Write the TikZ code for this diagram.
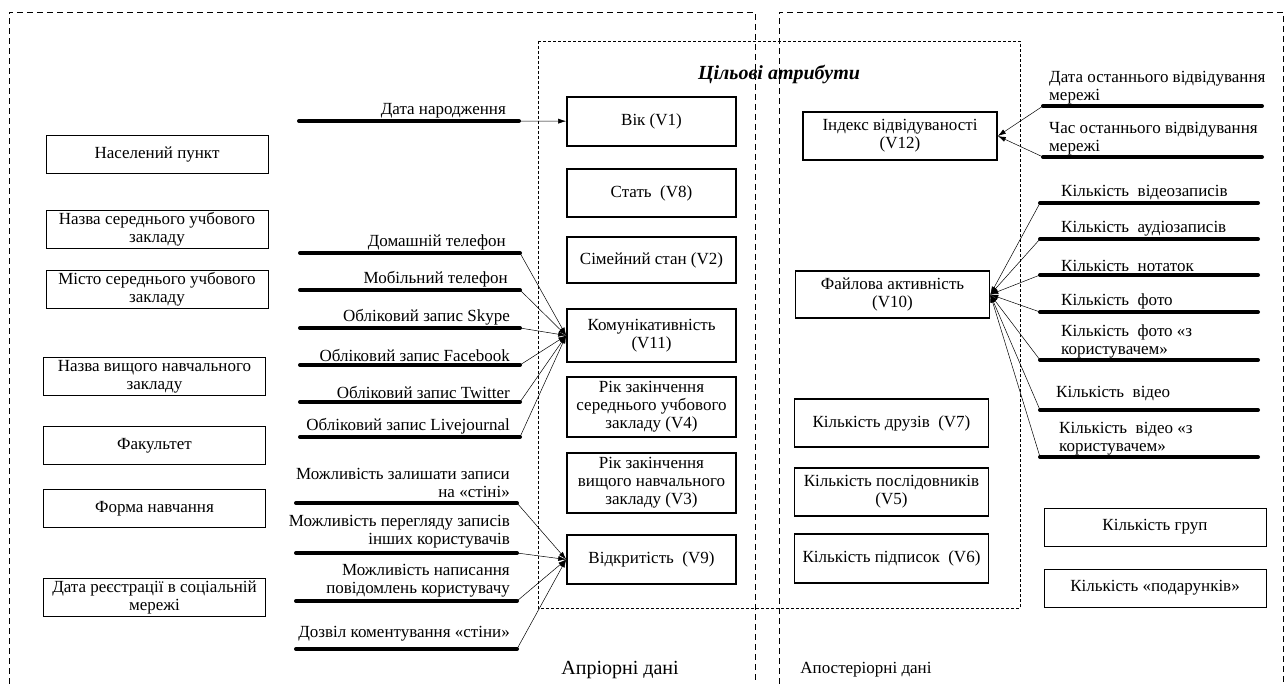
\documentclass[tikz,border=0pt]{standalone}
\usepackage{fontspec}
\setmainfont{Liberation Serif}
\usetikzlibrary{arrows.meta}

\begin{document}
\begin{tikzpicture}[
    x=1pt, y=-1pt,
    font=\fontsize{17}{18}\selectfont,
    box/.style={draw, line width=0.8pt, align=center, inner sep=1pt, minimum width=222pt, minimum height=38pt},
    attr/.style={draw, line width=1.6pt, align=center, inner sep=1pt, minimum width=169pt},
    post/.style={attr, minimum width=194pt, minimum height=48pt},
    feat/.style={line width=4pt, line cap=round},
    lblr/.style={inner sep=1pt, align=right, anchor=south east},
    lbll/.style={inner sep=1pt, align=left, anchor=south west},
    link/.style={-{Latex[length=8pt,width=5pt]}, line width=0.5pt},
    outer/.style={dash pattern=on 6pt off 4pt, line width=0.7pt},
    inner/.style={dash pattern=on 3pt off 2pt, line width=0.6pt}
]
\useasboundingbox (0,0) rectangle (1285,684);

% Frames
\draw[outer] (9,684) -- (9,12) -- (755,12) -- (755,684);
\draw[outer] (779,684) -- (779,12) -- (1283,12) -- (1283,684);
\draw[inner] (538,41) rectangle (1020,608);
\node[font=\fontsize{20}{22}\selectfont\bfseries\itshape] (title) at (779,75) {Цільові атрибути};
\node[font=\fontsize{20}{22}\selectfont] (apr) at (620,670) {Апріорні дані};
\node[font=\fontsize{17}{19}\selectfont] (apost) at (866,670) {Апостеріорні дані};

% Left boxes
\node[box] (np) at (157,154.5) {Населений пункт};
\node[box] (nsz) at (157,229.5) {Назва середнього учбового\\закладу};
\node[box] (msz) at (157,289.5) {Місто середнього учбового\\закладу};
\node[box] (nvz) at (154.5,376.5) {Назва вищого навчального\\закладу};
\node[box] (fak) at (154.5,445.5) {Факультет};
\node[box] (fn) at (154.5,508.5) {Форма навчання};
\node[box] (drs) at (154.5,597) {Дата реєстрації в соціальній\\мережі};

% Target attributes, a priori
\node[attr, minimum height=49pt] (v1) at (651.5,121.5) {Вік (V1)};
\node[attr, minimum height=48pt] (v8) at (651.5,193) {Стать~ (V8)};
\node[attr, minimum height=46pt] (v2) at (651.5,260) {Сімейний стан (V2)};
\node[attr, minimum height=53pt] (v11) at (651.5,335.5) {Комунікативність\\(V11)};
\node[attr, minimum height=60pt] (v4) at (651.5,407) {Рік закінчення\\середнього учбового\\закладу (V4)};
\node[attr, minimum height=60pt] (v3) at (651.5,483) {Рік закінчення\\вищого навчального\\закладу (V3)};
\node[attr, minimum height=49pt] (v9) at (651.5,559.5) {Відкритість~ (V9)};

% Target attributes, a posteriori
\node[post] (v12) at (900,136) {Індекс відвідуваності\\(V12)};
\node[post, minimum height=47pt] (v10) at (892.5,294.5) {Файлова активність\\(V10)};
\node[post] (v7) at (891.5,423) {Кількість друзів~ (V7)};
\node[post] (v5) at (891.5,492) {Кількість послідовників\\(V5)};
\node[post, minimum height=49pt] (v6) at (891.5,558.5) {Кількість підписок~ (V6)};

% Right boxes
\node[box] (kg) at (1155,527) {Кількість груп};
\node[box] (kp) at (1155,588) {Кількість «подарунків»};

% Birth date
\coordinate (dobL) at (299,121);
\coordinate (dobR) at (519,121);
\draw[feat] (dobL) -- (dobR);
\node[lblr] (tdob) at (507,119) {Дата народження};
\draw[link] (dobR) -- (v1);

% Communication
\coordinate (c1L) at (300,253); \coordinate (c1R) at (520,253);
\coordinate (c2L) at (300,290); \coordinate (c2R) at (520,290);
\coordinate (c3L) at (300,328); \coordinate (c3R) at (520,328);
\coordinate (c4L) at (300,365); \coordinate (c4R) at (520,365);
\coordinate (c5L) at (300,402); \coordinate (c5R) at (520,402);
\coordinate (c6L) at (300,437); \coordinate (c6R) at (520,437);
\draw[feat] (c1L) -- (c1R);
\draw[feat] (c2L) -- (c2R);
\draw[feat] (c3L) -- (c3R);
\draw[feat] (c4L) -- (c4R);
\draw[feat] (c5L) -- (c5R);
\draw[feat] (c6L) -- (c6R);
\node[lblr] (tc1) at (507,251) {Домашній телефон};
\node[lblr] (tc2) at (509,288) {Мобільний телефон};
\node[lblr] (tc3) at (511,326) {Обліковий запис Skype};
\node[lblr] (tc4) at (511,363) {Обліковий запис Facebook};
\node[lblr] (tc5) at (511,400) {Обліковий запис Twitter};
\node[lblr] (tc6) at (511,435) {Обліковий запис Livejournal};
\draw[link] (c1R) -- (v11.west);
\draw[link] (c2R) -- (v11.west);
\draw[link] (c3R) -- (v11.west);
\draw[link] (c4R) -- (v11.west);
\draw[link] (c5R) -- (v11.west);
\draw[link] (c6R) -- (v11.west);

% Openness
\coordinate (o1L) at (296,503); \coordinate (o1R) at (517,503);
\coordinate (o2L) at (296,553); \coordinate (o2R) at (517,553);
\coordinate (o3L) at (296,601); \coordinate (o3R) at (517,601);
\coordinate (o4L) at (296,649); \coordinate (o4R) at (517,649);
\draw[feat] (o1L) -- (o1R);
\draw[feat] (o2L) -- (o2R);
\draw[feat] (o3L) -- (o3R);
\draw[feat] (o4L) -- (o4R);
\node[lblr] (to1) at (511,499) {Можливість залишати записи\\на «стіні»};
\node[lblr] (to2) at (511,549) {Можливість перегляду записів\\інших користувачів};
\node[lblr] (to3) at (511,598) {Можливість написання\\повідомлень користувачу};
\node[lblr] (to4) at (511,642) {Дозвіл коментування «стіни»};
\draw[link] (o1R) -- (v9.west);
\draw[link] (o2R) -- (v9.west);
\draw[link] (o3R) -- (v9.west);
\draw[link] (o4R) -- (v9.west);

% Visits
\coordinate (a1L) at (1043,106); \coordinate (a1R) at (1262,106);
\coordinate (a2L) at (1043,157); \coordinate (a2R) at (1262,157);
\draw[feat] (a1L) -- (a1R);
\draw[feat] (a2L) -- (a2R);
\node[lbll] (ta1) at (1048,105) {Дата останнього відвідування\\мережі};
\node[lbll] (ta2) at (1048,156) {Час останнього відвідування\\мережі};
\draw[link] (a1L) -- (v12.east);
\draw[link] (a2L) -- (v12.east);

% File activity
\coordinate (f1L) at (1040,203); \coordinate (f1R) at (1258,203);
\coordinate (f2L) at (1040,239); \coordinate (f2R) at (1258,239);
\coordinate (f3L) at (1040,275); \coordinate (f3R) at (1258,275);
\coordinate (f4L) at (1040,312); \coordinate (f4R) at (1258,312);
\coordinate (f5L) at (1040,360); \coordinate (f5R) at (1258,360);
\coordinate (f6L) at (1040,410); \coordinate (f6R) at (1258,410);
\coordinate (f7L) at (1040,457); \coordinate (f7R) at (1258,457);
\draw[feat] (f1L) -- (f1R);
\draw[feat] (f2L) -- (f2R);
\draw[feat] (f3L) -- (f3R);
\draw[feat] (f4L) -- (f4R);
\draw[feat] (f5L) -- (f5R);
\draw[feat] (f6L) -- (f6R);
\draw[feat] (f7L) -- (f7R);
\node[lbll] (tf1) at (1060,201) {Кількість~ відеозаписів};
\node[lbll] (tf2) at (1060,237) {Кількість~ аудіозаписів};
\node[lbll] (tf3) at (1060,273) {Кількість~ нотаток};
\node[lbll] (tf4) at (1060,310) {Кількість~ фото};
\node[lbll] (tf5) at (1060,359) {Кількість~ фото «з\\користувачем»};
\node[lbll] (tf6) at (1055,402) {Кількість~ відео};
\node[lbll] (tf7) at (1058,456) {Кількість~ відео «з\\користувачем»};
\draw[link] (f1L) -- (v10.east);
\draw[link] (f2L) -- (v10.east);
\draw[link] (f3L) -- (v10.east);
\draw[link] (f4L) -- (v10.east);
\draw[link] (f5L) -- (v10.east);
\draw[link] (f6L) -- (v10.east);
\draw[link] (f7L) -- (v10.east);

\end{tikzpicture}
\end{document}
